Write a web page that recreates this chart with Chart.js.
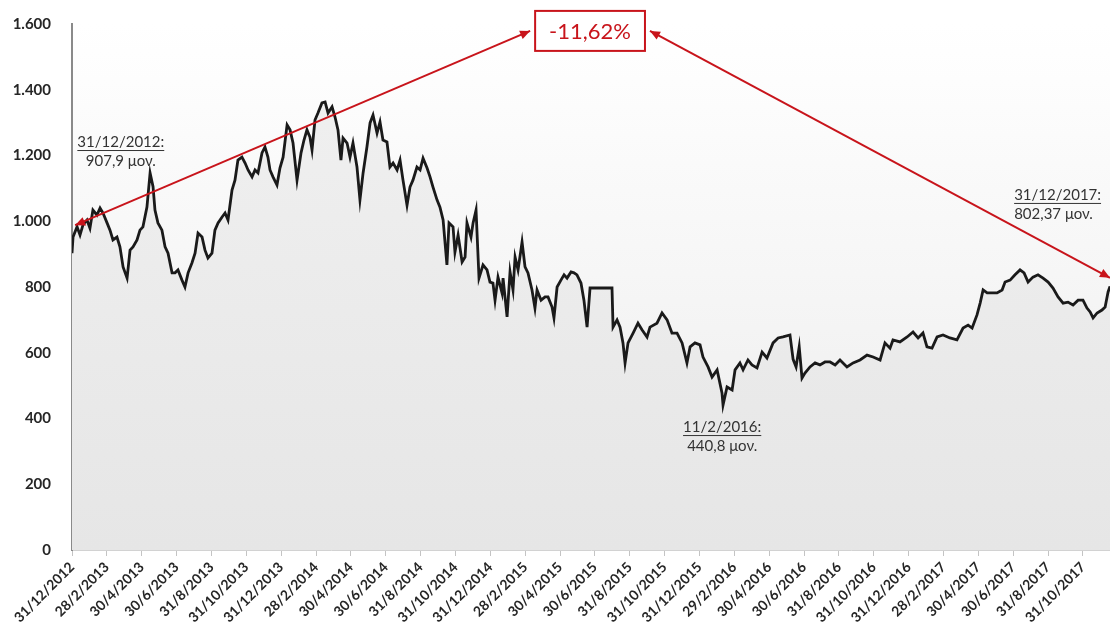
<!DOCTYPE html>
<html>
<head>
<meta charset="utf-8">
<script src="https://cdn.jsdelivr.net/npm/chart.js@4.4.1/dist/chart.umd.min.js"></script>
<style>
  html, body { margin: 0; padding: 0; background: #fff; }
</style>
</head>
<body>
<canvas id="myChart" width="1110" height="634"></canvas>
<script>
// months since 31/12/2012
var months = [
  0, 0.06, 0.29, 0.46, 0.63, 0.86, 1.03, 1.20, 1.43, 1.61, 1.78, 2.01, 2.18, 2.35, 2.58, 2.75, 2.93, 3.16, 3.33, 3.50,
  3.73, 3.90, 4.07, 4.30, 4.48, 4.65, 4.76, 4.93, 5.16, 5.34, 5.51, 5.74, 5.91, 6.08, 6.31, 6.48, 6.66, 6.88, 7.06, 7.23,
  7.46, 7.63, 7.80, 8.03, 8.20, 8.38, 8.61, 8.78, 8.95, 9.18, 9.35, 9.52, 9.75, 9.93, 10.10, 10.33, 10.50, 10.67, 10.90, 11.07,
  11.24, 11.36, 11.53, 11.76, 11.93, 12.11, 12.34, 12.51, 12.68, 12.91, 13.14, 13.31, 13.48, 13.65, 13.77, 13.94, 14.11, 14.34, 14.52, 14.69,
  14.92, 15.09, 15.26, 15.43, 15.55, 15.78, 15.95, 16.12, 16.35, 16.52, 16.70, 16.92, 17.10, 17.27, 17.50, 17.67, 17.84, 18.07, 18.24, 18.42,
  18.65, 18.82, 18.99, 19.22, 19.39, 19.56, 19.79, 19.97, 20.14, 20.37, 20.54, 20.71, 20.94, 21.11, 21.29, 21.51, 21.63, 21.86, 21.97, 22.15,
  22.38, 22.55, 22.66, 22.89, 23.01, 23.18, 23.35, 23.58, 23.81, 23.98, 24.15, 24.27, 24.44, 24.67, 24.73, 24.96, 25.13, 25.30, 25.42, 25.59,
  25.82, 25.99, 26.16, 26.39, 26.56, 26.68, 26.91, 27.14, 27.31, 27.54, 27.65, 27.83, 28.05, 28.23, 28.40, 28.63, 28.80, 28.97, 29.20, 29.37,
  29.55, 29.72, 30.29, 30.98, 31.04, 31.27, 31.44, 31.61, 31.73, 31.90, 32.19, 32.47, 32.70, 32.99, 33.16, 33.56, 33.85, 34.14, 34.42, 34.71,
  35.00, 35.28, 35.46, 35.74, 36.03, 36.20, 36.49, 36.72, 37.01, 37.29, 37.35, 37.58, 37.87, 38.04, 38.32, 38.50, 38.78, 39.01, 39.30, 39.59,
  39.87, 40.22, 40.51, 40.79, 41.19, 41.37, 41.54, 41.72, 41.88, 42.05, 42.34, 42.63, 42.91, 43.20, 43.49, 43.78, 44.06, 44.46, 44.81, 45.21,
  45.61, 45.96, 46.36, 46.64, 46.93, 47.10, 47.50, 47.91, 48.25, 48.54, 48.82, 49.05, 49.34, 49.63, 49.97, 50.37, 50.77, 51.12, 51.41, 51.64,
  51.92, 52.10, 52.27, 52.50, 52.78, 53.07, 53.36, 53.53, 53.82, 54.10, 54.39, 54.62, 54.85, 55.13, 55.42, 55.71, 56.00, 56.28, 56.57, 56.86,
  57.14, 57.43, 57.72, 58.00, 58.23, 58.41, 58.58, 58.81, 59.09, 59.27, 59.44, 59.55
]

// index level
var values = [
  903, 952, 983, 958, 989, 1004, 979, 1034, 1019, 1040, 1025, 995, 973, 943, 952, 922, 861, 827, 912, 922,
  943, 973, 983, 1043, 1147, 1105, 1034, 995, 973, 922, 903, 843, 843, 852, 821, 800, 843, 873, 903, 964,
  952, 912, 888, 903, 973, 995, 1013, 1025, 1004, 1095, 1125, 1186, 1195, 1177, 1156, 1135, 1156, 1147, 1208, 1226,
  1195, 1156, 1135, 1110, 1162, 1195, 1293, 1278, 1238, 1125, 1208, 1247, 1278, 1256, 1217, 1308, 1329, 1360, 1363, 1329,
  1348, 1317, 1278, 1186, 1253, 1238, 1195, 1238, 1165, 1065, 1147, 1226, 1299, 1323, 1268, 1302, 1247, 1241, 1165, 1177,
  1156, 1186, 1125, 1049, 1104, 1125, 1165, 1156, 1192, 1162, 1135, 1104, 1065, 1043, 1004, 867, 995, 983, 906, 958,
  876, 891, 995, 952, 995, 1034, 827, 867, 852, 815, 812, 760, 830, 782, 827, 709, 846, 791, 891, 852,
  937, 861, 843, 791, 736, 791, 760, 770, 770, 739, 706, 800, 821, 837, 827, 846, 843, 837, 812, 760,
  678, 797, 797, 797, 678, 700, 678, 630, 569, 630, 660, 690, 670, 648, 678, 690, 721, 700, 660, 660,
  630, 569, 618, 630, 624, 587, 557, 526, 548, 478, 441, 496, 487, 548, 569, 548, 578, 563, 554, 602,
  584, 630, 645, 648, 654, 580, 557, 618, 523, 538, 557, 569, 563, 572, 572, 563, 578, 557, 569, 578,
  593, 587, 578, 630, 614, 639, 633, 648, 663, 645, 660, 618, 614, 648, 654, 645, 639, 675, 684, 675,
  715, 751, 791, 782, 782, 782, 791, 815, 821, 837, 852, 843, 815, 830, 837, 827, 815, 797, 770, 751,
  754, 745, 760, 760, 736, 724, 706, 721, 730, 739, 785, 802
]

// one label every two months
var tickLabels = [
  '31/12/2012', '28/2/2013', '30/4/2013', '30/6/2013', '31/8/2013', '31/10/2013',
  '31/12/2013', '28/2/2014', '30/4/2014', '30/6/2014', '31/8/2014', '31/10/2014',
  '31/12/2014', '28/2/2015', '30/4/2015', '30/6/2015', '31/8/2015', '31/10/2015',
  '31/12/2015', '29/2/2016', '30/4/2016', '30/6/2016', '31/8/2016', '31/10/2016',
  '31/12/2016', '28/2/2017', '30/4/2017', '30/6/2017', '31/8/2017', '31/10/2017'
]

var yTicks = [0, 200, 400, 600, 800, 1000, 1200, 1400, 1600]

var changeText = '-11,62%'
var notes = [
  { title: '31/12/2012:', text: '907,9 μον.', at: [2.8, 1241], align: 'center' },
  { title: '11/2/2016:', text: '440,8 μον.', at: [37.3, 374], align: 'center' },
  { title: '31/12/2017:', text: '802,37 μον.', at: [54.05, 1080], align: 'left' }
]

var RED = '#c8141b'

function fmt(v) {
  return String(v).replace(/\B(?=(\d{3})+(?!\d))/g, '.')
}

function arrowHead(ctx, x0, y0, x1, y1) {
  var a = Math.atan2(y1 - y0, x1 - x0)
  var len = 10, w = 4.5
  ctx.beginPath()
  ctx.moveTo(x1, y1)
  ctx.lineTo(x1 - len * Math.cos(a) + w * Math.sin(a), y1 - len * Math.sin(a) - w * Math.cos(a))
  ctx.lineTo(x1 - len * Math.cos(a) - w * Math.sin(a), y1 - len * Math.sin(a) + w * Math.cos(a))
  ctx.closePath()
  ctx.fill()
}

function doubleArrow(ctx, x0, y0, x1, y1) {
  ctx.beginPath()
  ctx.moveTo(x0, y0)
  ctx.lineTo(x1, y1)
  ctx.stroke()
  arrowHead(ctx, x1, y1, x0, y0)
  arrowHead(ctx, x0, y0, x1, y1)
}

var decor = {
  id: 'decor',
  beforeDraw: function (chart) {
    var ctx = chart.ctx, a = chart.chartArea
    var g = ctx.createLinearGradient(0, a.top, 0, a.bottom)
    g.addColorStop(0, '#ffffff')
    g.addColorStop(1, '#ececec')
    ctx.save()
    ctx.fillStyle = g
    ctx.fillRect(a.left, a.top, a.right - a.left, a.bottom - a.top)
    ctx.restore()
  },
  afterDraw: function (chart) {
    var ctx = chart.ctx
    var x = chart.scales.x, y = chart.scales.y
    var px = function (m) { return x.getPixelForValue(m) }
    var py = function (v) { return y.getPixelForValue(v) }

    ctx.save()
    // change box
    ctx.font = '22px Lato'
    var tw = ctx.measureText(changeText).width
    var bw = tw + 28, bh = 40
    var bx = px(29.72), by = py(1579)
    ctx.fillStyle = '#fff'
    ctx.fillRect(bx - bw / 2, by - bh / 2, bw, bh)
    ctx.strokeStyle = RED
    ctx.lineWidth = 2
    ctx.strokeRect(bx - bw / 2, by - bh / 2, bw, bh)
    ctx.fillStyle = RED
    ctx.textAlign = 'center'
    ctx.textBaseline = 'middle'
    ctx.fillText(changeText, bx, by + 1)

    // arrows from start and end to the box
    ctx.lineWidth = 2
    doubleArrow(ctx, px(0.18), py(988), bx - bw / 2 - 5, by)
    doubleArrow(ctx, bx + bw / 2 + 5, by, px(59.55), py(828))

    // notes
    ctx.fillStyle = '#333333'
    ctx.strokeStyle = '#333333'
    ctx.lineWidth = 1
    ctx.font = '15px Lato'
    notes.forEach(function (n) {
      var cx = px(n.at[0]), cy = py(n.at[1])
      ctx.textAlign = n.align
      var w = ctx.measureText(n.title).width
      ctx.fillText(n.title, cx, cy)
      var x0 = n.align === 'center' ? cx - w / 2 : cx
      ctx.beginPath()
      ctx.moveTo(x0, cy + 8.5)
      ctx.lineTo(x0 + w, cy + 8.5)
      ctx.stroke()
      ctx.fillText(n.text, cx, cy + 19)
    })
    ctx.restore()
  }
}

var ctx = document.getElementById('myChart')
var myChart = new Chart(ctx, {
  type: 'line',
  data: {
    datasets: [{
      data: months.map(function (m, i) { return { x: m, y: values[i] } }),
      borderColor: '#1a1a1a',
      borderWidth: 2.8,
      pointRadius: 0,
      tension: 0,
      fill: 'origin',
      backgroundColor: function (c) {
        var a = c.chart.chartArea
        if (!a) return '#ececec'
        var g = c.chart.ctx.createLinearGradient(0, a.top, 0, a.bottom)
        g.addColorStop(0, '#f1f1f1')
        g.addColorStop(1, '#e6e6e6')
        return g
      }
    }]
  },
  options: {
    responsive: false,
    animation: false,
    layout: { padding: { top: 24, right: 0, left: 0, bottom: 0 } },
    plugins: {
      legend: { display: false },
      tooltip: { enabled: false }
    },
    scales: {
      x: {
        type: 'linear',
        min: 0,
        max: 59.55,
        afterBuildTicks: function (s) {
          s.ticks = tickLabels.map(function (t, i) { return { value: i * 2 } })
        },
        afterFit: function (s) { s.height = 84 },
        ticks: {
          autoSkip: false,
          minRotation: 45,
          maxRotation: 45,
          padding: 3,
          color: '#262626',
          font: { family: 'Lato', size: 14, weight: 'bold' },
          callback: function (v) { return tickLabels[Math.round(v / 2)] }
        },
        grid: { drawOnChartArea: false, tickLength: 6, color: '#c4c4c4' },
        border: { color: '#d2d2d2', width: 1 }
      },
      y: {
        min: 0,
        max: 1600,
        afterBuildTicks: function (s) {
          s.ticks = yTicks.map(function (v) { return { value: v } })
        },
        afterFit: function (s) { s.width = 72 },
        ticks: {
          padding: 13,
          color: '#262626',
          font: { family: 'Lato', size: 15, weight: 'bold' },
          callback: function (v) { return fmt(v) }
        },
        grid: { display: false },
        border: { color: '#8a8a8a', width: 2 }
      }
    }
  },
  plugins: [decor]
})
</script>
</body>
</html>
